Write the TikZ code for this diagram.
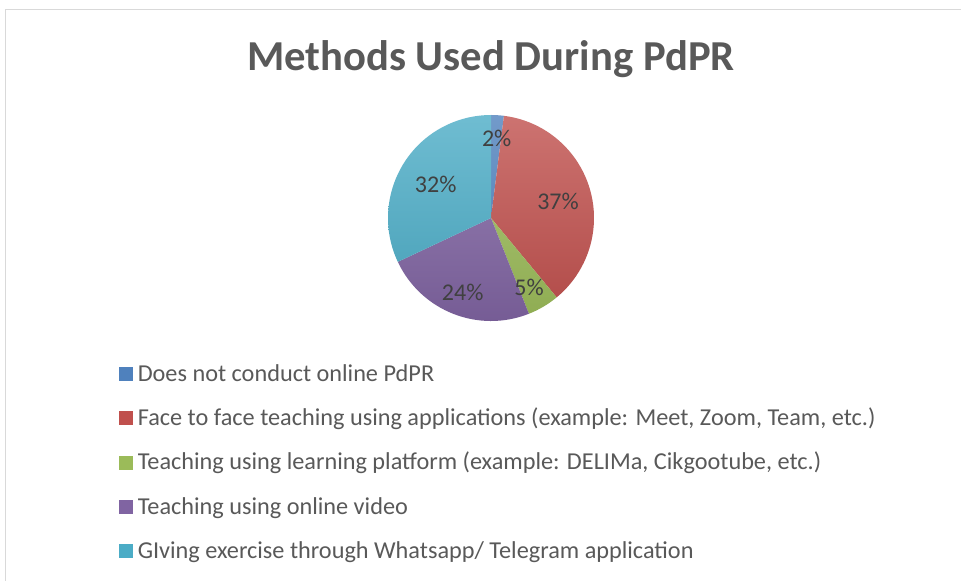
\documentclass[tikz,border=0pt]{standalone}
\usepackage{fontspec}
\setmainfont{Carlito}
\definecolor{txtgray}{HTML}{595959}
\definecolor{lblgray}{HTML}{404040}
\definecolor{framegray}{HTML}{D9D9D9}
\definecolor{cblue}{HTML}{4F81BD}
\definecolor{cred}{HTML}{C0504D}
\definecolor{cgreen}{HTML}{9BBB59}
\definecolor{cpurple}{HTML}{8064A2}
\definecolor{ccyan}{HTML}{4BACC6}
\begin{document}
\begin{tikzpicture}[x=0.75pt,y=-0.75pt,
  titletext/.style={font=\fontsize{32}{38}\selectfont\bfseries, text=txtgray, inner sep=0pt, anchor=base},
  lbl/.style={font=\fontsize{18}{22}\selectfont, text=lblgray, inner sep=0pt, anchor=base},
  legtext/.style={font=\fontsize{18.2}{22}\selectfont, text=txtgray, inner sep=0pt, anchor=base west},
  legbox/.style={minimum width=10.5pt, minimum height=10.5pt, inner sep=0pt, anchor=south west}]
\useasboundingbox (0,0) rectangle (961,581);
\fill[white] (0,0) rectangle (961,581);
\draw[framegray, line width=1.1pt] (961,9.5) -- (5.5,9.5) -- (5.5,581);
% title
\node[titletext] (title) at (491,70.7) {Methods Used During PdPR};
% pie
\coordinate (c) at (491,218);
\def\R{103}
\foreach \a/\b/\col in {0/0.02/cblue, 0.02/0.39/cred, 0.39/0.44/cgreen, 0.44/0.68/cpurple, 0.68/1.0/ccyan}{
  \begin{scope}
    \clip (c) -- ++({360*\a-90}:\R) arc[start angle={360*\a-90}, end angle={360*\b-90}, radius=\R] -- cycle;
    \shade[top color=\col!80!white, bottom color=\col!92!black] (388,115) rectangle (594,321);
  \end{scope}
}
% data labels
\node[lbl] (l1) at (496.7,147) {2\%};
\node[lbl] (l2) at (558,209.5) {37\%};
\node[lbl] (l3) at (529,296) {5\%};
\node[lbl] (l4) at (462.7,300.5) {24\%};
\node[lbl] (l5) at (435.7,192.8) {32\%};
% legend
\foreach \i/\col/\txt in {
  0/cblue/{Does not conduct online PdPR},
  1/cred/{Face to face teaching using applications (example: Meet, Zoom, Team, etc.)},
  2/cgreen/{Teaching using learning platform (example: DELIMa, Cikgootube, etc.)},
  3/cpurple/{Teaching using online video},
  4/ccyan/{GIving exercise through Whatsapp/ Telegram application}}{
  \node[legbox, fill=\col] (box\i) at (119,{381+44.4*\i}) {};
  \node[legtext] (leg\i) at (137.5,{381+44.4*\i}) {\txt};
}
\end{tikzpicture}
\end{document}
